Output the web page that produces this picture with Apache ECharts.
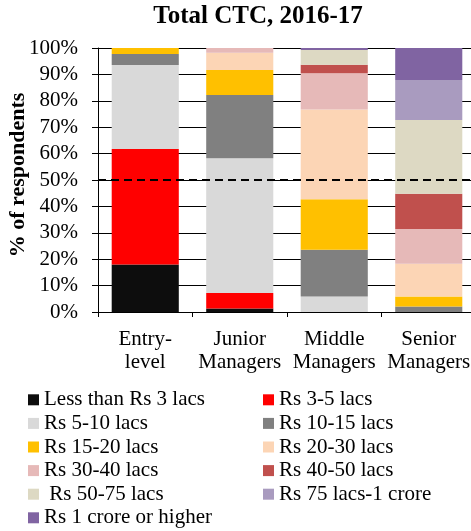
<!DOCTYPE html>
<html><head><meta charset="utf-8">
<script src="https://cdn.jsdelivr.net/npm/echarts@6/dist/echarts.min.js"></script>
<style>html,body{margin:0;padding:0;background:#fff}#c{width:471px;height:531px}</style>
</head><body><div id="c"></div>
<script>
const categories = ['Entry-\nlevel', 'Junior\nManagers', 'Middle\nManagers', 'Senior\nManagers'];
const yTicks = [0,10,20,30,40,50,60,70,80,90,100];
const seriesNames = ['Less than Rs 3 lacs','Rs 3-5 lacs','Rs 5-10 lacs','Rs 10-15 lacs','Rs 15-20 lacs','Rs 20-30 lacs','Rs 30-40 lacs','Rs 40-50 lacs',' Rs 50-75 lacs','Rs 75 lacs-1 crore','Rs 1 crore or higher'];
const lt3     = [18, 1.3, 0, 0];
const r3_5    = [43.7, 5.9, 0, 0];
const r5_10   = [31.9, 51, 5.9, 0];
const r10_15  = [4.1, 24, 17.7, 2.1];
const r15_20  = [2.3, 9.5, 19.1, 3.8];
const r20_30  = [0, 6.5, 34, 12.4];
const r30_40  = [0, 1.8, 13.7, 13.1];
const r40_50  = [0, 0, 3.3, 13.4];
const r50_75  = [0, 0, 5.5, 27.9];
const r75_1cr = [0, 0, 0, 15.2];
const r1cr    = [0, 0, 0.8, 12.1];
const referenceLine = 50;
const seriesData = [lt3, r3_5, r5_10, r10_15, r15_20, r20_30, r30_40, r40_50, r50_75, r75_1cr, r1cr];
const colors = ['#0d0d0d','#ff0000','#d9d9d9','#808080','#ffc000','#fcd5b5','#e6b9b8','#c0504d','#ddd9c3','#a99bbf','#8064a2'];
const FONT = '"Liberation Serif", "DejaVu Serif", serif';

const series = seriesData.map((d, i) => ({
  name: seriesNames[i], type: 'bar', stack: 'all', data: d, barWidth: '71%',
  itemStyle: { color: colors[i] }, emphasis: { disabled: true }
}));
series[0].markLine = {
  symbol: 'none', silent: true, z: 10,
  label: { show: false },
  lineStyle: { color: '#000', type: [8, 5], width: 2 },
  data: [{ yAxis: referenceLine }]
};

const legendText = { fontFamily: FONT, fontSize: 21, color: '#000', lineHeight: 23.6 };
const chart = echarts.init(document.getElementById('c'), null, { renderer: 'canvas' });
chart.setOption({
  animation: false,
  color: colors,
  title: { text: 'Total CTC, 2016-17', left: 258, textAlign: 'center', top: 4, padding: 0,
    textStyle: { fontFamily: FONT, fontSize: 25, fontWeight: 'bold', color: '#000' } },
  grid: { left: 98, top: 48, width: 378, height: 264, containLabel: false, outerBoundsMode: 'none' },
  legend: [
    { data: seriesNames.filter((n, i) => i % 2 === 0), orient: 'vertical', left: 28, top: 388, height: 143,
      padding: 0, itemWidth: 11, itemHeight: 11, itemGap: 0, icon: 'rect', textStyle: legendText, selectedMode: false },
    { data: seriesNames.filter((n, i) => i % 2 === 1), orient: 'vertical', left: 263, top: 388, height: 143,
      padding: 0, itemWidth: 11, itemHeight: 11, itemGap: 0, icon: 'rect', textStyle: legendText, selectedMode: false }
  ],
  xAxis: {
    type: 'category', data: categories,
    axisLine: { lineStyle: { color: '#000', width: 1 } },
    axisTick: { show: true, length: 5, lineStyle: { color: '#000' } },
    axisLabel: { fontFamily: FONT, fontSize: 21, color: '#000', lineHeight: 23, margin: 16, interval: 0 }
  },
  yAxis: {
    type: 'value', min: 0, max: 100, interval: 10,
    name: '% of respondents', nameLocation: 'middle', nameRotate: 90, nameGap: 69, nameMoveOverlap: false,
    nameTextStyle: { fontFamily: FONT, fontSize: 22, fontWeight: 'bold', color: '#000', padding: [0, 0, 0, 10] },
    axisLine: { show: true, lineStyle: { color: '#000', width: 1 } },
    axisTick: { show: true, length: 6, lineStyle: { color: '#000' } },
    splitLine: { show: true, lineStyle: { color: '#000', width: 1 } },
    axisLabel: { fontFamily: FONT, fontSize: 21, color: '#000', margin: 20,
      formatter: v => yTicks.includes(v) ? v + '%' : '' }
  },
  series: series
});
</script></body></html>
